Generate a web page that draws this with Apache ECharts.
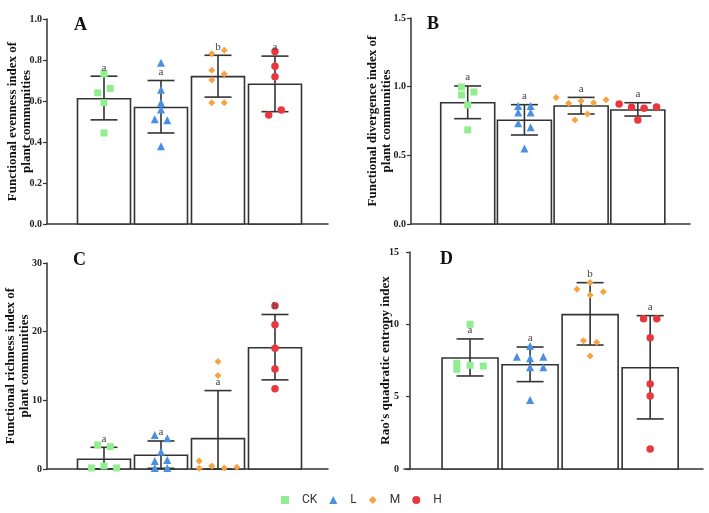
<!DOCTYPE html>
<html lang="en">
<head>
<meta charset="UTF-8">
<title>Functional diversity indices</title>
<script src="https://cdn.jsdelivr.net/npm/echarts@6/dist/echarts.min.js"></script>
<style>
  html, body { margin: 0; padding: 0; background: #fff; }
  #main { width: 709px; height: 513px; }
</style>
</head>
<body>
<div id="main"></div>
<script>
// groups (legend order)
var groups = ['CK', 'L', 'M', 'H'];

// Panel A - functional evenness
var aMeans = [0.611, 0.568, 0.719, 0.682];
var aErrHi = [0.721, 0.700, 0.823, 0.819];
var aErrLo = [0.508, 0.444, 0.619, 0.548];
var aLetters = ['a', 'a', 'b', 'a'];
var aPoints = [
  [0.732, 0.640, 0.661, 0.592, 0.444],
  [0.787, 0.655, 0.592, 0.558, 0.511, 0.506, 0.379],
  [0.831, 0.848, 0.750, 0.732, 0.703, 0.592, 0.592],
  [0.842, 0.769, 0.718, 0.556, 0.532]
];
var aJitter = [[0, -1, 1, 0, 0], [0, 0, 0, 0, -1, 1, 0], [-1, 1, -1, 1, -1, -1, 1], [0, 0, 0, 1, -1]];

// Panel B - functional divergence
var bMeans = [0.883, 0.755, 0.859, 0.830];
var bErrHi = [1.005, 0.869, 0.922, 0.883];
var bErrLo = [0.767, 0.648, 0.801, 0.786];
var bLetters = ['a', 'a', 'a', 'a'];
var bPoints = [
  [0.998, 0.940, 0.961, 0.867, 0.685],
  [0.859, 0.859, 0.811, 0.811, 0.733, 0.704, 0.549],
  [0.922, 0.879, 0.896, 0.883, 0.905, 0.757, 0.801],
  [0.874, 0.850, 0.842, 0.852, 0.757]
];
var bJitter = [[-1, -1, 1, 0, 0], [-1, 1, -1, 1, -1, 1, 0], [-4, -2, 0, 2, 4, -1, 1], [-3, -1, 1, 3, 0]];

// Panel C - functional richness
var cMeans = [1.41, 2.00, 4.42, 17.65];
var cErrHi = [3.16, 4.08, 11.42, 22.5];
var cErrLo = [0, 0.10, 0, 12.98];
var cLetters = ['a', 'a', 'a', 'b'];
var cPoints = [
  [3.50, 3.26, 0.15, 0.44, 0.15],
  [4.96, 4.47, 2.53, 1.17, 1.31, 0.15, 0.15],
  [15.65, 13.61, 1.17, 0.10, 0.44, 0.15, 0.24],
  [23.77, 21.0, 17.6, 14.58, 11.67]
];
var cJitter = [[-1, 1, -2, 0, 2], [-1, 1, 0, -1, 1, -1, 1], [0, 0, -3, -3, -1, 1, 3], [0, 0, 0, 0, 0]];

// Panel D - Rao's quadratic entropy
var dMeans = [7.67, 7.21, 10.67, 7.00];
var dErrHi = [8.99, 8.43, 12.88, 10.6];
var dErrLo = [6.43, 6.04, 8.57, 3.46];
var dLetters = ['a', 'a', 'b', 'a'];
var dPoints = [
  [10.0, 7.30, 6.89, 7.17, 7.12],
  [8.50, 7.76, 7.65, 7.76, 7.03, 7.03, 4.77],
  [12.9, 12.42, 12.03, 12.26, 8.87, 8.76, 7.81],
  [10.39, 10.39, 9.08, 5.88, 5.05, 1.38]
];
var dJitter = [[0, -2, -2, 0, 2], [0, -2, 0, 2, 0, 2, 0], [0, -2, 0, 2, -1, 1, 0], [-1, 1, 0, 0, 0, 0]];

var colors = ['#90ee90', '#4a90e2', '#f5a443', '#e8383d'];
var symbols = ['rect', 'triangle', 'diamond', 'circle'];
var symbolSizes = [7, 8, 7, 7.5];
var serif = '"Liberation Serif", "DejaVu Serif", serif';
var ink = '#333';

var panels = [
  { tag: 'A', means: aMeans, hi: aErrHi, lo: aErrLo, letters: aLetters, points: aPoints, jitter: aJitter,
    yMax: 1, yStep: 0.2, digits: 1, title: 'Functional evenness index of\nplant communities',
    grid: { left: 47, top: 19, width: 281, height: 205 }, xMin: 0, xMax: 4.93, barWidth: 53, nameGap: 13.5, tagPos: [74, 26] },
  { tag: 'B', means: bMeans, hi: bErrHi, lo: bErrLo, letters: bLetters, points: bPoints, jitter: bJitter,
    yMax: 1.5, yStep: 0.5, digits: 1, title: 'Functional divergence index of\nplant communities',
    grid: { left: 411, top: 18, width: 279, height: 206 }, xMin: 0, xMax: 4.92, barWidth: 54, nameGap: 17, tagPos: [427, 25] },
  { tag: 'C', means: cMeans, hi: cErrHi, lo: cErrLo, letters: cLetters, points: cPoints, jitter: cJitter,
    yMax: 30, yStep: 10, digits: 0, title: 'Functional richness index of\nplant communities',
    grid: { left: 47, top: 263, width: 281, height: 206 }, xMin: 0, xMax: 4.93, barWidth: 53, nameGap: 15, tagPos: [73, 261] },
  { tag: 'D', means: dMeans, hi: dErrHi, lo: dErrLo, letters: dLetters, points: dPoints, jitter: dJitter,
    yMax: 15, yStep: 5, digits: 0, title: "Rao's quadratic entropy index",
    grid: { left: 404, top: 252, width: 299, height: 217 }, xMin: -0.1, xMax: 4.88, barWidth: 56, nameGap: 11.5, tagPos: [440, 260] }
];

var jitterStep = 0.11;

var option = {
  animation: false,
  backgroundColor: '#fff',
  grid: [], xAxis: [], yAxis: [], series: [], graphic: [],
  legend: {
    data: groups,
    bottom: 2,
    left: 276,
    itemWidth: 8,
    itemHeight: 8,
    itemGap: 12,
    selectedMode: false,
    textStyle: { fontFamily: 'Roboto, "Noto Sans", sans-serif', fontSize: 12, color: ink, padding: [0, 0, 0, 8] }
  }
};

panels.forEach(function (p, i) {
  var g0 = p.grid;
  option.grid.push({ left: g0.left, top: g0.top, width: g0.width, height: g0.height, containLabel: false, outerBoundsMode: 'none' });
  option.xAxis.push({
    type: 'value', gridIndex: i, min: p.xMin, max: p.xMax,
    axisLine: { show: true, onZero: false, lineStyle: { color: ink, width: 1.5 } },
    axisTick: { show: false }, axisLabel: { show: false }, splitLine: { show: false }
  });
  option.yAxis.push({
    type: 'value', gridIndex: i, min: 0, max: p.yMax, interval: p.yStep,
    name: p.title, nameLocation: 'middle', nameGap: p.nameGap, nameMoveOverlap: false,
    nameTextStyle: { fontFamily: serif, fontWeight: 'bold', fontSize: 13, color: '#111', lineHeight: 14 },
    axisLine: { show: true, lineStyle: { color: ink, width: 1.5 } },
    axisTick: { show: true, length: 4, lineStyle: { color: ink, width: 1.2 } },
    axisLabel: {
      margin: 5, fontFamily: serif, fontWeight: 'bold', fontSize: 10, color: '#222',
      formatter: (function (d) { return function (v) { return v.toFixed(d); }; })(p.digits)
    },
    splitLine: { show: false }
  });

  // bars (custom rects so the value axis keeps its exact extent)
  option.series.push({
    type: 'custom', xAxisIndex: i, yAxisIndex: i, z: 2,
    encode: { x: 0, y: 1 },
    data: p.means.map(function (m, g) { return [g + 1, m]; }),
    renderItem: (function (bw) {
      return function (params, api) {
        var top = api.coord([api.value(0), api.value(1)]);
        var base = api.coord([api.value(0), 0]);
        return {
          type: 'rect',
          shape: { x: top[0] - bw / 2, y: top[1], width: bw, height: base[1] - top[1] },
          style: { fill: '#fff', stroke: ink, lineWidth: 1.6 }
        };
      };
    })(p.barWidth)
  });

  // error bars
  option.series.push({
    type: 'custom', xAxisIndex: i, yAxisIndex: i, z: 3,
    encode: { x: 0, y: [1, 2] },
    data: p.means.map(function (m, g) { return [g + 1, p.hi[g], p.lo[g]]; }),
    renderItem: function (params, api) {
      var x = api.value(0);
      var top = api.coord([x, api.value(1)]);
      var bot = api.coord([x, api.value(2)]);
      var half = 13.5;
      var st = { stroke: ink, lineWidth: 1.6 };
      return {
        type: 'group', children: [
          { type: 'line', shape: { x1: top[0], y1: top[1], x2: bot[0], y2: bot[1] }, style: st },
          { type: 'line', shape: { x1: top[0] - half, y1: top[1], x2: top[0] + half, y2: top[1] }, style: st },
          { type: 'line', shape: { x1: bot[0] - half, y1: bot[1], x2: bot[0] + half, y2: bot[1] }, style: st }
        ]
      };
    }
  });

  // individual points
  groups.forEach(function (name, g) {
    option.series.push({
      name: name, type: 'scatter', xAxisIndex: i, yAxisIndex: i, z: 4,
      symbol: symbols[g], symbolSize: symbolSizes[g],
      itemStyle: { color: colors[g], opacity: 1 },
      data: p.points[g].map(function (v, k) { return [g + 1 + p.jitter[g][k] * jitterStep, v]; })
    });
  });

  // significance letters
  option.series.push({
    type: 'custom', xAxisIndex: i, yAxisIndex: i, z: 5,
    encode: { x: 0, y: 1 },
    data: p.means.map(function (m, g) { return [g + 1, p.hi[g]]; }),
    renderItem: (function (letters) {
      return function (params, api) {
        var pt = api.coord([api.value(0), api.value(1)]);
        return {
          type: 'text',
          style: {
            text: letters[params.dataIndex], x: pt[0], y: pt[1] - 3,
            align: 'center', verticalAlign: 'bottom',
            font: '11px ' + serif, fill: '#444'
          }
        };
      };
    })(p.letters)
  });

  option.graphic.push({
    type: 'text', left: p.tagPos[0], top: p.tagPos[1] - 10,
    style: { text: p.tag, font: 'bold 18px ' + serif, fill: '#111' }
  });
});

var myChart = echarts.init(document.getElementById('main'));
myChart.setOption(option);
</script>
</body>
</html>
